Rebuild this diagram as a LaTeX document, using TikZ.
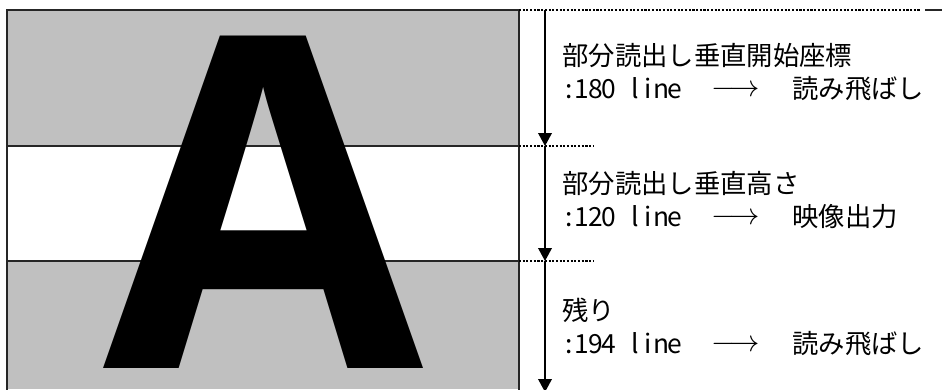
\documentclass[tikz,border=0pt]{standalone}
\usepackage{fontspec}
\newfontfamily\jpfont{Noto Sans CJK JP}
\newfontfamily\glyphfont{Open Sans}
\usetikzlibrary{arrows.meta}
\definecolor{bandgray}{HTML}{C0C0C0}

% half-width cells for the line counts
\newcommand\halfcells[1]{\halfcellsloop#1\relax}
\def\halfcellsloop#1{\ifx#1\relax\else\makebox[0.5em]{#1}\expandafter\halfcellsloop\fi}

\begin{document}
\begin{tikzpicture}[x=0.02cm, y=-0.02cm,
  frame/.style={line width=1.1pt, draw=black!85},
  guide/.style={line width=0.6pt, dash pattern=on 1.2pt off 0.9pt},
  feed/.style={line width=0.8pt, -{Triangle[width=7.8pt,length=7.4pt]}},
  jptext/.style={font=\jpfont\fontsize{15}{18}\selectfont, anchor=base west, inner sep=0pt},
  longarrow/.style={font=\fontsize{18}{18}\selectfont, anchor=base west, inner sep=0pt}]

\useasboundingbox (0,0) rectangle (942,389);

% Define dimensions (in pixels)
\def\xl{7}     % left edge of image
\def\xr{519}   % right edge of image
\def\yt{10}    % top
\def\ya{146}   % start of read-out band
\def\yb{261}   % end of read-out band
\def\yd{389}   % bottom (cut off)
\def\xs{545}   % scale line
\def\xt{562}   % text column

% Skipped bands
\fill[bandgray] (\xl,\yt) rectangle (\xr,\ya);
\fill[bandgray] (\xl,\yb) rectangle (\xr,\yd);

% Image frame and band borders
\draw[frame] (\xl,\yd+2) -- (\xl,\yt) -- (\xr,\yt) -- (\xr,\yd+2);
\draw[frame] (\xl,\ya) -- (\xr,\ya);
\draw[frame] (\xl,\yb) -- (\xr,\yb);

% The letter in the image
\node[font=\glyphfont\bfseries\fontsize{264}{264}\selectfont, anchor=base, inner sep=0pt] (bigA) at (263.5,368) {A};

% Dotted guides
\draw[guide] (\xr,\yt) -- (920,\yt);
\draw[guide] (\xr,\ya) -- (593,\ya);
\draw[guide] (\xr,\yb) -- (593,\yb);
\draw[frame] (925,\yt) -- (942,\yt);

% Scale arrows
\coordinate (S0) at (\xs,\yt);
\coordinate (S1) at (\xs,\ya);
\coordinate (S2) at (\xs,\yb);
\coordinate (S3) at (\xs,392);
\draw[feed] (S0) -- (S1);
\draw[feed] (S1) -- (S2);
\draw[feed] (S2) -- (S3);

% Top band: start line
\node[jptext] (title1) at (\xt,65) {部分読出し垂直開始座標};
\node[jptext] (count1) at (\xt,98) {\halfcells{:180~line}};
\node[longarrow] (arrow1) at (711,96) {$\longrightarrow$};
\node[jptext] (result1) at (792,98) {読み飛ばし};

% Middle band: height
\node[jptext] (title2) at (\xt,193) {部分読出し垂直高さ};
\node[jptext] (count2) at (\xt,226) {\halfcells{:120~line}};
\node[longarrow] (arrow2) at (711,224) {$\longrightarrow$};
\node[jptext] (result2) at (792,226) {映像出力};

% Bottom band: rest
\node[jptext] (title3) at (\xt,320) {残り};
\node[jptext] (count3) at (\xt,353) {\halfcells{:194~line}};
\node[longarrow] (arrow3) at (711,351) {$\longrightarrow$};
\node[jptext] (result3) at (792,353) {読み飛ばし};

\end{tikzpicture}
\end{document}
